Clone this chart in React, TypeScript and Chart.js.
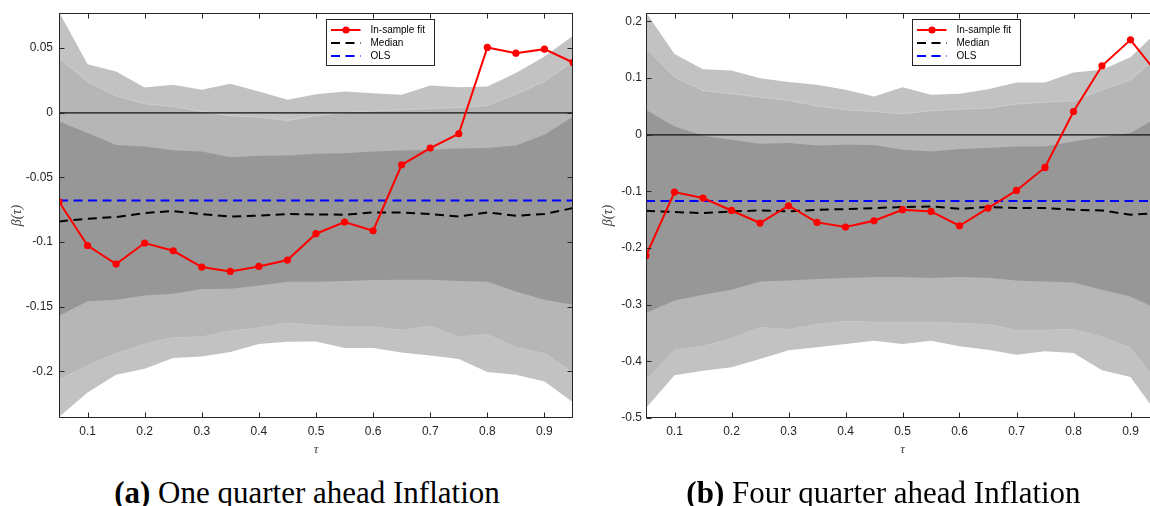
import React, { useEffect, useRef } from "react";
import { Chart, registerables } from "chart.js";

Chart.register(...registerables);
Chart.defaults.font.family = "'Liberation Sans', Arial, sans-serif";

// ---------- shared ----------
const TAU = [0.05, 0.1, 0.15, 0.2, 0.25, 0.3, 0.35, 0.4, 0.45, 0.5, 0.55, 0.6, 0.65, 0.7, 0.75, 0.8, 0.85, 0.9, 0.95];
const X_TICKS = [0.1, 0.2, 0.3, 0.4, 0.5, 0.6, 0.7, 0.8, 0.9];
const LEGEND_LABELS = ["In-sample fit", "Median", "OLS"];
const X_TITLE = "τ";
const Y_TITLE = "β(τ)";
const CAPTION_A_TAG = "(a)";
const CAPTION_A_TEXT = " One quarter ahead Inflation";
const CAPTION_B_TAG = "(b)";
const CAPTION_B_TEXT = " Four quarter ahead Inflation";

// ---------- panel (a): one quarter ahead ----------
const A_Y_TICKS = [-0.2, -0.15, -0.1, -0.05, 0, 0.05];
const A_Y_MIN = -0.236;
const A_Y_MAX = 0.077;
const A_FIT = [-0.0688, -0.1026, -0.117, -0.1007, -0.1067, -0.1193, -0.1227, -0.1188, -0.1139, -0.0935, -0.0845, -0.0912, -0.0402, -0.0273, -0.0162, 0.0505, 0.0461, 0.0492, 0.0389];
const A_MEDIAN = [-0.084, -0.0819, -0.0806, -0.0775, -0.076, -0.0783, -0.0802, -0.0796, -0.0783, -0.0786, -0.0788, -0.0771, -0.0771, -0.0783, -0.0802, -0.0771, -0.0796, -0.0783, -0.0737];
const A_OLS = -0.0678;
const A_U3 = [0.078, 0.0376, 0.0319, 0.0196, 0.0216, 0.0178, 0.0224, 0.0165, 0.01, 0.0144, 0.0165, 0.0152, 0.0139, 0.0211, 0.0198, 0.0203, 0.0307, 0.0435, 0.0595];
const A_U2 = [0.0423, 0.0242, 0.0131, 0.007, 0.0049, 0.001, -0.0023, -0.0033, -0.006, -0.0023, 0.0002, 0.0015, 0.0023, 0.0033, 0.0041, 0.0056, 0.0144, 0.0242, 0.0397];
const A_U1 = [-0.0067, -0.0157, -0.025, -0.026, -0.0289, -0.0299, -0.0343, -0.0332, -0.033, -0.0317, -0.0312, -0.0299, -0.0291, -0.0286, -0.0276, -0.0273, -0.0253, -0.017, -0.0029];
const A_L1 = [-0.1569, -0.1458, -0.1445, -0.1412, -0.1399, -0.1363, -0.136, -0.1335, -0.1306, -0.1306, -0.1301, -0.1293, -0.1291, -0.1291, -0.1301, -0.1306, -0.1381, -0.1445, -0.1484];
const A_L2 = [-0.2059, -0.1953, -0.1858, -0.1786, -0.1734, -0.1729, -0.1683, -0.166, -0.1621, -0.1639, -0.1652, -0.1652, -0.1677, -0.1647, -0.1729, -0.1711, -0.1811, -0.1858, -0.2007];
const A_L3 = [-0.2352, -0.2162, -0.2025, -0.1979, -0.1896, -0.1884, -0.185, -0.1788, -0.177, -0.1768, -0.1819, -0.1819, -0.1853, -0.1876, -0.1904, -0.2004, -0.2025, -0.2077, -0.2239];

// ---------- panel (b): four quarter ahead ----------
const B_Y_TICKS = [-0.5, -0.4, -0.3, -0.2, -0.1, 0, 0.1, 0.2];
const B_Y_MIN = -0.5;
const B_Y_MAX = 0.215;
const B_FIT = [-0.2135, -0.1011, -0.1117, -0.1336, -0.1558, -0.1253, -0.1547, -0.1629, -0.1518, -0.1323, -0.1353, -0.1606, -0.1294, -0.0983, -0.0577, 0.0411, 0.1218, 0.1676, 0.1046];
const B_MEDIAN = [-0.1341, -0.1365, -0.1382, -0.1353, -0.1336, -0.1353, -0.1323, -0.1312, -0.1294, -0.1276, -0.1265, -0.1306, -0.1276, -0.1294, -0.1294, -0.1323, -0.1336, -0.1412, -0.138];
const B_OLS = -0.117;
const B_U3 = [0.216, 0.1424, 0.1159, 0.1135, 0.1, 0.093, 0.0882, 0.0794, 0.0676, 0.0841, 0.0706, 0.0723, 0.0806, 0.0923, 0.0923, 0.11, 0.1147, 0.137, 0.185];
const B_U2 = [0.153, 0.1018, 0.0782, 0.0723, 0.0665, 0.0605, 0.0512, 0.0441, 0.0411, 0.0371, 0.0424, 0.0453, 0.0471, 0.0541, 0.0577, 0.06, 0.0794, 0.097, 0.139];
const B_U1 = [0.0441, 0.0147, -0.0018, -0.0088, -0.0159, -0.0147, -0.0188, -0.0176, -0.0182, -0.0265, -0.0294, -0.0253, -0.0235, -0.0206, -0.0206, -0.0118, -0.0041, 0.003, 0.0323];
const B_L1 = [-0.3147, -0.2924, -0.2823, -0.2735, -0.2588, -0.2571, -0.2547, -0.2529, -0.2511, -0.2511, -0.2529, -0.2511, -0.2523, -0.2571, -0.2588, -0.2606, -0.2735, -0.2853, -0.3088];
const B_L2 = [-0.4323, -0.3794, -0.3723, -0.3588, -0.3394, -0.3429, -0.334, -0.3282, -0.33, -0.33, -0.33, -0.3323, -0.334, -0.3441, -0.3441, -0.3423, -0.3559, -0.3753, -0.44];
const B_L3 = [-0.4823, -0.4247, -0.4164, -0.4106, -0.3958, -0.3806, -0.3753, -0.3694, -0.3638, -0.3694, -0.3635, -0.3735, -0.3794, -0.3882, -0.3823, -0.3853, -0.4159, -0.4276, -0.497];

// ---------- styles ----------
const AXIS_COLOR = "#262626";
const INNER_BAND = "#979797";
const MIDDLE_BAND = "#b6b6b6";
const OUTER_BAND = "#c2c2c2";
const SEAM = "#cdcdcd";

const fmt = (v: number) => String(parseFloat(v.toFixed(4)));

const boxPlugin = {
  id: "matlabBox",
  afterDatasetsDraw(chart: any, _a: any, opts: any) {
    const { ctx, chartArea, scales } = chart;
    const { left, right, top, bottom } = chartArea;
    const L = Math.round(left) + 0.5;
    const R = Math.round(right) - 0.5;
    const T = Math.round(top) + 0.5;
    const B = Math.round(bottom) - 0.5;
    const tl = 5;
    ctx.save();
    ctx.setLineDash([]);
    ctx.strokeStyle = AXIS_COLOR;
    ctx.lineWidth = 1;
    ctx.beginPath();
    X_TICKS.forEach((v) => {
      const px = Math.round(scales.x.getPixelForValue(v)) + 0.5;
      ctx.moveTo(px, B);
      ctx.lineTo(px, B - tl);
      ctx.moveTo(px, T);
      ctx.lineTo(px, T + tl);
    });
    (opts.yTicks as number[]).forEach((v) => {
      const py = Math.round(scales.y.getPixelForValue(v)) + 0.5;
      ctx.moveTo(L, py);
      ctx.lineTo(L + tl, py);
      ctx.moveTo(R, py);
      ctx.lineTo(R - tl, py);
    });
    ctx.stroke();
    ctx.strokeRect(L, T, R - L, B - T);
    ctx.restore();
  },
};

const legendPlugin = {
  id: "boxLegend",
  afterDraw(chart: any, _a: any, opts: any) {
    const { ctx, chartArea } = chart;
    const x0 = Math.round(chartArea.left + opts.dx) + 0.5;
    const y0 = Math.round(chartArea.top + opts.dy) + 0.5;
    ctx.save();
    ctx.fillStyle = "#ffffff";
    ctx.fillRect(x0, y0, opts.w, opts.h);
    ctx.setLineDash([]);
    ctx.strokeStyle = AXIS_COLOR;
    ctx.lineWidth = 1;
    ctx.strokeRect(x0, y0, opts.w, opts.h);
    const rows = [10, 23.5, 36.5];
    ctx.font = "10px 'Liberation Sans', Arial, sans-serif";
    ctx.textBaseline = "middle";
    ctx.textAlign = "left";
    for (let i = 0; i < 3; i++) {
      const ds = chart.data.datasets[i];
      const y = Math.round(y0 + rows[i]);
      ctx.strokeStyle = ds.borderColor;
      ctx.lineWidth = ds.borderWidth;
      ctx.setLineDash(ds.borderDash || []);
      ctx.beginPath();
      ctx.moveTo(x0 + 4.5, y);
      ctx.lineTo(x0 + 34, y);
      ctx.stroke();
      if (ds.pointRadius > 0) {
        ctx.fillStyle = ds.pointBackgroundColor;
        ctx.beginPath();
        ctx.arc(x0 + 19.5, y, ds.pointRadius, 0, Math.PI * 2);
        ctx.fill();
      }
      ctx.fillStyle = "#000000";
      ctx.fillText(ds.label, x0 + 44, y + 0.5);
    }
    ctx.restore();
  },
};

type PanelProps = {
  left: number;
  fit: number[];
  median: number[];
  ols: number;
  bands: number[][];
  yMin: number;
  yMax: number;
  yTicks: number[];
  yAxisWidth: number;
  yTickPad: number;
  yTitlePad: number;
  legendDx: number;
};

const CW = 590;
const CH = 460;

function Panel(p: PanelProps) {
  const ref = useRef<HTMLCanvasElement>(null);
  useEffect(() => {
    const pts = (arr: number[]) => TAU.map((t, i) => ({ x: t, y: arr[i] }));
    const flat = (v: number) => TAU.map((t) => ({ x: t, y: v }));
    const [u1, l1, u2, l2, u3, l3] = p.bands;
    const band = (arr: number[], target: number | null, color: string, order: number, seam: boolean) => ({
      label: "band",
      data: pts(arr),
      borderWidth: seam ? 1 : 0,
      borderColor: seam ? SEAM : "rgba(0,0,0,0)",
      backgroundColor: color,
      pointRadius: 0,
      fill: target === null ? false : { target },
      order,
    });
    const chart = new Chart(ref.current as HTMLCanvasElement, {
      type: "line",
      data: {
        datasets: [
          {
            label: LEGEND_LABELS[0],
            data: pts(p.fit),
            borderColor: "#ff0000",
            backgroundColor: "#ff0000",
            pointBackgroundColor: "#ff0000",
            borderWidth: 2,
            pointRadius: 3.6,
            pointBorderWidth: 0,
            fill: false,
            order: 0,
          },
          {
            label: LEGEND_LABELS[1],
            data: pts(p.median),
            borderColor: "#000000",
            borderWidth: 2,
            borderDash: [9, 5.5],
            pointRadius: 0,
            fill: false,
            order: 1,
          },
          {
            label: LEGEND_LABELS[2],
            data: flat(p.ols),
            borderColor: "#0000ff",
            borderWidth: 2,
            borderDash: [9, 5.5],
            pointRadius: 0,
            fill: false,
            order: 2,
          },
          {
            label: "zero",
            data: flat(0),
            borderColor: "#111111",
            borderWidth: 1.2,
            pointRadius: 0,
            fill: false,
            order: 3,
          },
          band(u1, 5, INNER_BAND, 4, false),
          band(l1, null, INNER_BAND, 5, false),
          band(u2, 7, MIDDLE_BAND, 6, true),
          band(l2, null, MIDDLE_BAND, 7, true),
          band(u3, 9, OUTER_BAND, 8, false),
          band(l3, null, OUTER_BAND, 9, false),
        ] as any,
      },
      options: {
        animation: false,
        responsive: false,
        devicePixelRatio: 1,
        events: [],
        layout: { padding: { top: 13, right: 17, bottom: 0, left: 0 } },
        plugins: {
          legend: { display: false },
          tooltip: { enabled: false },
          matlabBox: { yTicks: p.yTicks },
          boxLegend: { dx: p.legendDx, dy: 6, w: 108, h: 46 },
        } as any,
        scales: {
          x: {
            type: "linear",
            min: TAU[0],
            max: TAU[TAU.length - 1],
            grid: { display: false, drawTicks: false },
            border: { display: false },
            afterBuildTicks: (s: any) => {
              s.ticks = X_TICKS.map((v) => ({ value: v }));
            },
            afterFit: (s: any) => {
              s.height = CH - 418;
            },
            ticks: {
              padding: 6,
              color: AXIS_COLOR,
              font: { size: 12 },
              maxRotation: 0,
              autoSkip: false,
              callback: (v: any) => fmt(Number(v)),
            },
            title: {
              display: true,
              text: X_TITLE,
              color: "#404040",
              font: { size: 13, family: "'Liberation Serif', serif", style: "italic" },
              padding: { top: 0, bottom: 2.7 },
            },
          },
          y: {
            type: "linear",
            min: p.yMin,
            max: p.yMax,
            grid: { display: false, drawTicks: false },
            border: { display: false },
            afterBuildTicks: (s: any) => {
              s.ticks = p.yTicks.map((v) => ({ value: v }));
            },
            afterFit: (s: any) => {
              s.width = p.yAxisWidth;
            },
            ticks: {
              padding: p.yTickPad,
              color: AXIS_COLOR,
              font: { size: 12 },
              autoSkip: false,
              callback: (v: any) => fmt(Number(v)),
            },
            title: {
              display: true,
              text: Y_TITLE,
              color: "#404040",
              font: { size: 14, family: "'Liberation Serif', serif", style: "italic" },
              padding: { top: p.yTitlePad, bottom: 0 },
            },
          },
        },
      } as any,
      plugins: [boxPlugin, legendPlugin],
    });
    return () => chart.destroy();
  }, []);
  return (
    <canvas
      ref={ref}
      width={CW}
      height={CH}
      style={{ position: "absolute", left: p.left, top: 0, width: CW, height: CH }}
    />
  );
}

const captionStyle = (center: number): React.CSSProperties => ({
  position: "absolute",
  left: center - 300,
  width: 600,
  top: 476,
  height: 34,
  lineHeight: "34px",
  textAlign: "center",
  whiteSpace: "nowrap",
  fontFamily: "'Liberation Serif', 'Times New Roman', serif",
  fontSize: 31,
  color: "#000",
});

export default function App() {
  return (
    <div
      style={{
        position: "fixed",
        left: 0,
        top: 0,
        width: 1150,
        height: 506,
        overflow: "hidden",
        background: "#ffffff",
      }}
    >
      <Panel
        left={0}
        fit={A_FIT}
        median={A_MEDIAN}
        ols={A_OLS}
        bands={[A_U1, A_L1, A_U2, A_L2, A_U3, A_L3]}
        yMin={A_Y_MIN}
        yMax={A_Y_MAX}
        yTicks={A_Y_TICKS}
        yAxisWidth={59}
        yTickPad={6}
        yTitlePad={8.6}
        legendDx={267}
      />
      <Panel
        left={586}
        fit={B_FIT}
        median={B_MEDIAN}
        ols={B_OLS}
        bands={[B_U1, B_L1, B_U2, B_L2, B_U3, B_L3]}
        yMin={B_Y_MIN}
        yMax={B_Y_MAX}
        yTicks={B_Y_TICKS}
        yAxisWidth={60}
        yTickPad={4}
        yTitlePad={13.6}
        legendDx={266}
      />
      <div style={captionStyle(307)}>
        <b>{CAPTION_A_TAG}</b>
        {CAPTION_A_TEXT}
      </div>
      <div style={captionStyle(883.5)}>
        <b>{CAPTION_B_TAG}</b>
        {CAPTION_B_TEXT}
      </div>
    </div>
  );
}
